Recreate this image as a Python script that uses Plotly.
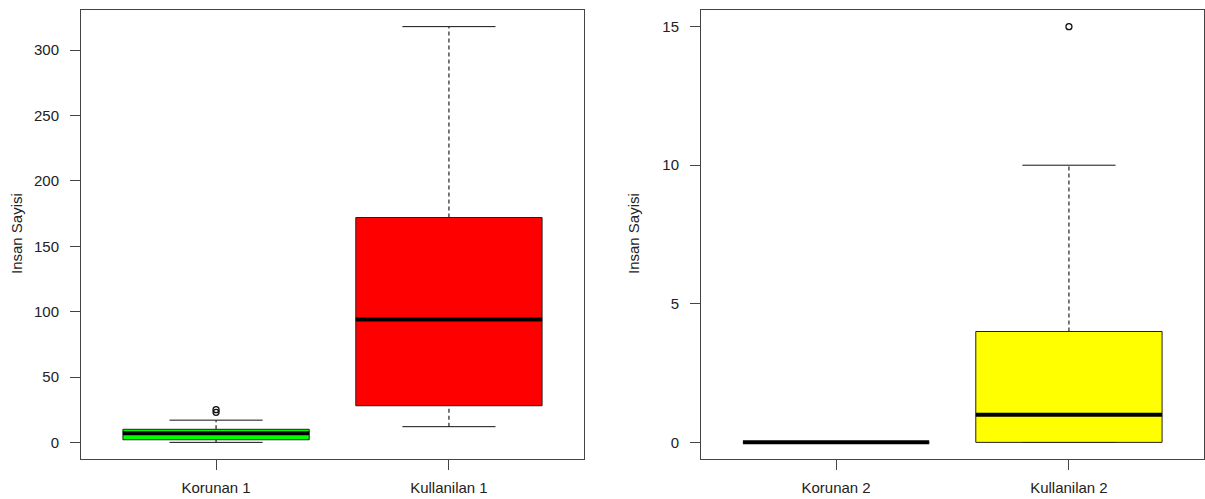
import plotly.graph_objects as go

# Summary statistics for the first pair of groups
categories_1 = ["Korunan 1", "Kullanilan 1"]
q1_1 = [2, 28]
median_1 = [7, 94]
q3_1 = [10, 172]
lower_1 = [0, 12]
upper_1 = [17, 318]
outliers_1 = [[23, 25], []]
fills_1 = ["#00ff00", "#ff0000"]

# Summary statistics for the second pair of groups
categories_2 = ["Korunan 2", "Kullanilan 2"]
q1_2 = [0, 0]
median_2 = [0, 1]
q3_2 = [0, 4]
lower_2 = [0, 0]
upper_2 = [0, 10]
outliers_2 = [[], [15]]
fills_2 = ["#ffffff", "#ffff00"]

yticks_1 = [0, 50, 100, 150, 200, 250, 300]
yticks_2 = [0, 5, 10, 15]
y_title = "Insan Sayisi"

W, H = 1205, 499
FONT = "Liberation Sans, Arial, sans-serif"
INK = "#222222"
FRAME = "#444444"
BOX_W = 0.8
CAP_W = 0.4

fig = go.Figure()


def add_boxes(xa, ya, q1, med, q3, lo, hi, outs, fills):
    for i in range(len(q1)):
        p = i + 1
        # dashed whiskers
        for a, b in ((q3[i], hi[i]), (lo[i], q1[i])):
            fig.add_trace(go.Scatter(
                x=[p, p], y=[a, b], mode="lines", xaxis=xa, yaxis=ya,
                line=dict(color="#222222", width=1.2, dash="4px,3px"),
                hoverinfo="skip", showlegend=False))
        # whisker caps
        for v in (hi[i], lo[i]):
            fig.add_trace(go.Scatter(
                x=[p - CAP_W / 2, p + CAP_W / 2], y=[v, v], mode="lines",
                xaxis=xa, yaxis=ya, line=dict(color="#111111", width=1),
                hoverinfo="skip", showlegend=False))
        # box body
        x0, x1 = p - BOX_W / 2, p + BOX_W / 2
        fig.add_trace(go.Scatter(
            x=[x0, x1, x1, x0, x0], y=[q1[i], q1[i], q3[i], q3[i], q1[i]],
            mode="lines", fill="toself", fillcolor=fills[i],
            xaxis=xa, yaxis=ya, line=dict(color="#222222", width=1),
            hoverinfo="skip", showlegend=False))
        # median
        fig.add_trace(go.Scatter(
            x=[x0, x1], y=[med[i], med[i]], mode="lines",
            xaxis=xa, yaxis=ya, line=dict(color="#000000", width=4),
            hoverinfo="skip", showlegend=False))
        # outliers
        if outs[i]:
            fig.add_trace(go.Scatter(
                x=[p] * len(outs[i]), y=outs[i], mode="markers",
                xaxis=xa, yaxis=ya,
                marker=dict(symbol="circle-open", size=6, color="#111111",
                            line=dict(width=1.3)),
                hoverinfo="skip", showlegend=False))


add_boxes("x", "y", q1_1, median_1, q3_1, lower_1, upper_1, outliers_1, fills_1)
add_boxes("x2", "y2", q1_2, median_2, q3_2, lower_2, upper_2, outliers_2, fills_2)


def r_range(lo, hi):
    span = hi - lo
    return [lo - 0.04 * span, hi + 0.04 * span]


def all_vals(*groups):
    vals = []
    for g in groups:
        for v in g:
            if isinstance(v, list):
                vals.extend(v)
            else:
                vals.append(v)
    return vals


v1 = all_vals(lower_1, upper_1, outliers_1)
v2 = all_vals(lower_2, upper_2, outliers_2)
n = len(categories_1)
x_rng = r_range(0.5, n + 0.5)

axis_common = dict(
    showline=True, linecolor=FRAME, linewidth=1, mirror=True,
    showgrid=False, zeroline=False, ticks="outside", ticklen=10,
    tickcolor=FRAME, tickwidth=1,
    tickfont=dict(family=FONT, size=15, color=INK),
)

px = lambda v: v / W
py = lambda v: 1 - v / H

fig.update_layout(
    width=W, height=H,
    margin=dict(l=0, r=0, t=0, b=0),
    paper_bgcolor="white", plot_bgcolor="white",
    font=dict(family=FONT, color=INK),
    xaxis=dict(domain=[px(81), px(584)], range=x_rng, tickmode="array",
               tickvals=list(range(1, n + 1)), ticktext=categories_1,
               anchor="y", ticklabelstandoff=5, **axis_common),
    yaxis=dict(domain=[py(459), py(10)], range=r_range(min(v1), max(v1)),
               tickmode="array", tickvals=yticks_1, anchor="x",
               ticklabelstandoff=8, **axis_common),
    xaxis2=dict(domain=[px(701), px(1204)], range=x_rng, tickmode="array",
                tickvals=list(range(1, n + 1)), ticktext=categories_2,
                anchor="y2", ticklabelstandoff=5, **axis_common),
    yaxis2=dict(domain=[py(459), py(10)], range=r_range(min(v2), max(v2)),
                tickmode="array", tickvals=yticks_2, anchor="x2",
                ticklabelstandoff=8, **axis_common),
)

for xp in (16, 633):
    fig.add_annotation(
        x=px(xp), y=py(234), xref="paper", yref="paper", text=y_title,
        textangle=-90, showarrow=False, xanchor="center", yanchor="middle",
        font=dict(family=FONT, size=15, color=INK))

fig.write_html("out.html")
